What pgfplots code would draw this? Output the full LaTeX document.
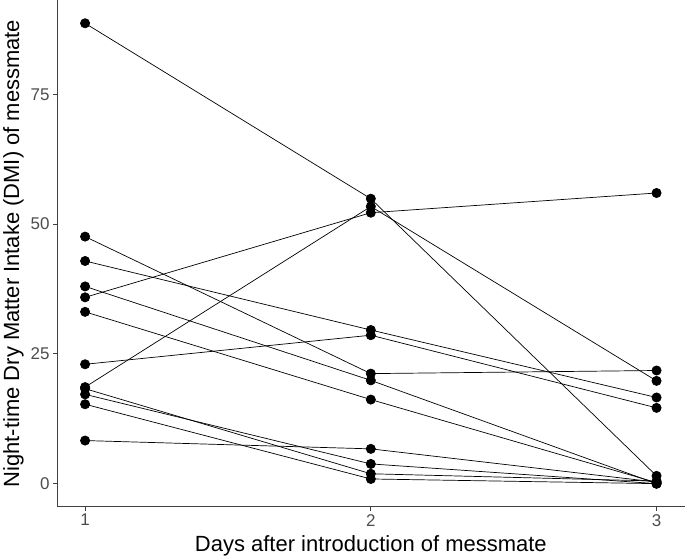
\documentclass[border=0pt]{standalone}
\usepackage{pgfplots}
\pgfplotsset{compat=1.18}
\usepackage{fontspec}
\setmainfont{Liberation Sans}
\definecolor{tickgray}{HTML}{4D4D4D}
\begin{document}
\begin{tikzpicture}
\tikzset{ind/.style={color=black, line width=0.7bp, solid, mark=*, mark size=4.6bp, mark options={solid, fill=black, draw=black}}}
\begin{axis}[
  scale only axis,
  width=626bp, height=505bp,
  xmin=0.902, xmax=3.098,
  ymin=-4.43, ymax=93.1,
  axis x line=bottom, axis y line=left,
  axis line style={-, line width=0.9bp, color=black!75},
  xtick={1,2,3}, ytick={0,25,50,75},
  tick align=outside,
  major tick length=4bp,
  tick style={line width=0.9bp, color=black!75},
  tick label style={font=\fontsize{17}{20}\selectfont, text=tickgray},
  /pgf/number format/assume math mode=true,
  xlabel={Days after introduction of messmate},
  ylabel={Night-time Dry Matter Intake (DMI) of messmate},
  xlabel style={yshift=-3bp},
  label style={font=\fontsize{22}{26}\selectfont},
  clip=false,
]
\addplot[ind] coordinates {(1,88.7) (2,54.9) (3,1.5)};
\addplot[ind] coordinates {(1,18.6) (2,53.4) (3,19.8)};
\addplot[ind] coordinates {(1,35.9) (2,52.2) (3,56.0)};
\addplot[ind] coordinates {(1,42.9) (2,29.6) (3,16.6)};
\addplot[ind] coordinates {(1,23.0) (2,28.6) (3,14.6)};
\addplot[ind] coordinates {(1,47.6) (2,21.2) (3,21.8)};
\addplot[ind] coordinates {(1,38.0) (2,19.9) (3,0.0)};
\addplot[ind] coordinates {(1,33.1) (2,16.2) (3,0.2)};
\addplot[ind] coordinates {(1,8.3) (2,6.7) (3,0.3)};
\addplot[ind] coordinates {(1,17.2) (2,3.8) (3,0.0)};
\addplot[ind] coordinates {(1,18.3) (2,1.9) (3,0.5)};
\addplot[ind] coordinates {(1,15.3) (2,0.9) (3,0.0)};
\end{axis}
\end{tikzpicture}
\end{document}
